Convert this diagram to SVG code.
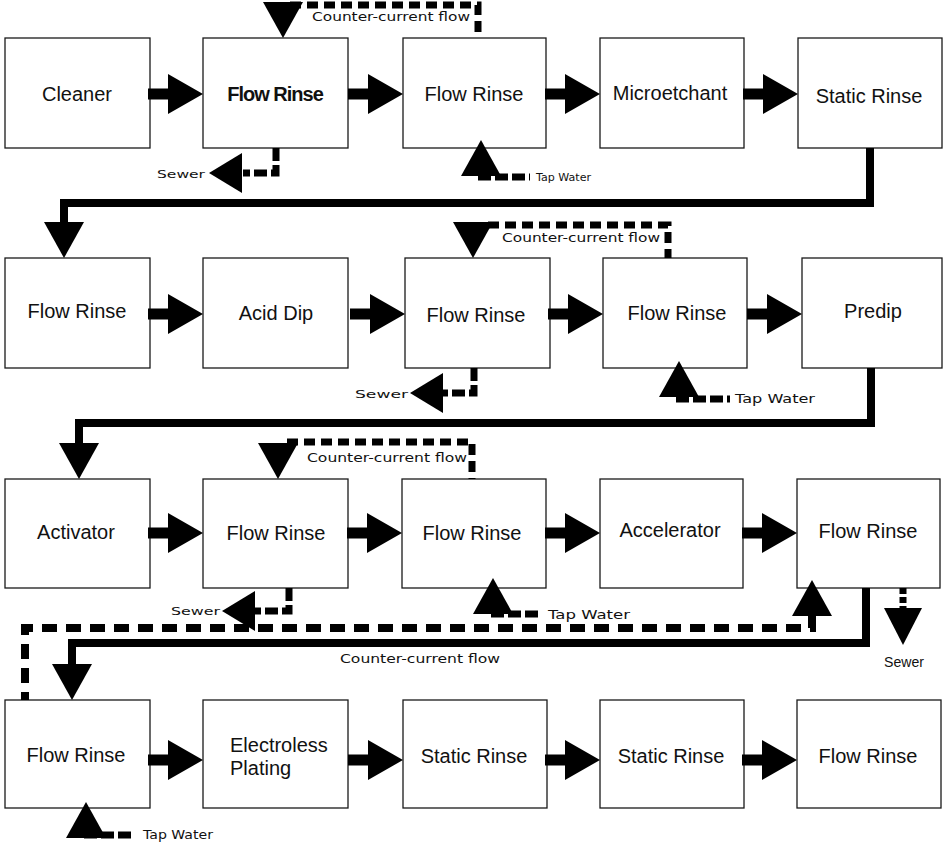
<svg xmlns="http://www.w3.org/2000/svg" width="944" height="851" viewBox="0 0 944 851">
<style>
.box{fill:#fff;stroke:#1a1a1a;stroke-width:1.3}
.t{font-family:"Liberation Sans",Arial,sans-serif;font-size:20px;fill:#111;text-anchor:middle}
.tb{font-weight:bold;letter-spacing:-1px}
.s{font-family:"DejaVu Sans",Verdana,sans-serif;font-size:12px;fill:#111}
.sa{font-family:"Liberation Sans",Arial,sans-serif;font-size:14px;fill:#111}
.solid{fill:none;stroke:#000;stroke-width:8}
.dash{fill:none;stroke:#000;stroke-width:7;stroke-dasharray:11 6}
.ldash{fill:none;stroke:#000;stroke-width:8;stroke-dasharray:15 9}
.sdash{fill:none;stroke:#000;stroke-width:7;stroke-dasharray:13 4}
.hd{fill:#000}
</style>
<defs>
<path id="ar" d="M-55,-5.5 H-35 V-20 L0,0 L-35,20 V5.5 H-55 Z"/>
<path id="dn" d="M-20,-36 L20,-36 L0,0 Z"/>
<path id="up" d="M-20,36 L20,36 L0,0 Z"/>
<path id="lt" d="M0,0 L33,-20 L33,20 Z"/>
</defs>

<g id="nodes">
<g id="n1"><rect class="box" x="5" y="38" width="145" height="110"/><text class="t" x="77" y="101">Cleaner</text></g>
<g id="n2"><rect class="box" x="203" y="38" width="145" height="110"/><text class="t tb" x="275" y="101">Flow Rinse</text></g>
<g id="n3"><rect class="box" x="403" y="38" width="143" height="110"/><text class="t" x="474" y="101">Flow Rinse</text></g>
<g id="n4"><rect class="box" x="600" y="38" width="144" height="110"/><text class="t" x="670" y="100">Microetchant</text></g>
<g id="n5"><rect class="box" x="798" y="38" width="144" height="110"/><text class="t" x="869" y="103">Static Rinse</text></g>

<g id="n6"><rect class="box" x="5" y="258" width="145" height="110"/><text class="t" x="77" y="318">Flow Rinse</text></g>
<g id="n7"><rect class="box" x="203" y="258" width="145" height="110"/><text class="t" x="276" y="320">Acid Dip</text></g>
<g id="n8"><rect class="box" x="405" y="258" width="145" height="110"/><text class="t" x="476" y="322">Flow Rinse</text></g>
<g id="n9"><rect class="box" x="603" y="258" width="144" height="110"/><text class="t" x="677" y="320">Flow Rinse</text></g>
<g id="n10"><rect class="box" x="802" y="258" width="140" height="110"/><text class="t" x="873" y="318">Predip</text></g>

<g id="n11"><rect class="box" x="5" y="479" width="145" height="109"/><text class="t" x="76" y="539">Activator</text></g>
<g id="n12"><rect class="box" x="203" y="479" width="145" height="109"/><text class="t" x="276" y="540">Flow Rinse</text></g>
<g id="n13"><rect class="box" x="402" y="479" width="144" height="109"/><text class="t" x="472" y="540">Flow Rinse</text></g>
<g id="n14"><rect class="box" x="600" y="479" width="143" height="109"/><text class="t" x="670" y="537">Accelerator</text></g>
<g id="n15"><rect class="box" x="797" y="479" width="143" height="109"/><text class="t" x="868" y="538">Flow Rinse</text></g>

<g id="n16"><rect class="box" x="5" y="700" width="145" height="108"/><text class="t" x="76" y="762">Flow Rinse</text></g>
<g id="n17"><rect class="box" x="203" y="700" width="145" height="108"/><text class="t" x="230" y="752" style="text-anchor:start">Electroless</text><text class="t" x="230" y="775" style="text-anchor:start">Plating</text></g>
<g id="n18"><rect class="box" x="403" y="700" width="144" height="108"/><text class="t" x="474" y="763">Static Rinse</text></g>
<g id="n19"><rect class="box" x="600" y="700" width="144" height="108"/><text class="t" x="671" y="763">Static Rinse</text></g>
<g id="n20"><rect class="box" x="797" y="700" width="144" height="108"/><text class="t" x="868" y="763">Flow Rinse</text></g>
</g>

<g id="connectors">
<use href="#ar" class="hd" x="203" y="94"/>
<use href="#ar" class="hd" x="403" y="94"/>
<use href="#ar" class="hd" x="600" y="94"/>
<use href="#ar" class="hd" x="798" y="94"/>
<use href="#ar" class="hd" x="203" y="314"/>
<use href="#ar" class="hd" x="405" y="314"/>
<use href="#ar" class="hd" x="603" y="314"/>
<use href="#ar" class="hd" x="802" y="314"/>
<use href="#ar" class="hd" x="203" y="533"/>
<use href="#ar" class="hd" x="402" y="533"/>
<use href="#ar" class="hd" x="600" y="533"/>
<use href="#ar" class="hd" x="797" y="533"/>
<use href="#ar" class="hd" x="203" y="760"/>
<use href="#ar" class="hd" x="403" y="760"/>
<use href="#ar" class="hd" x="600" y="760"/>
<use href="#ar" class="hd" x="797" y="760"/>

<path class="solid" d="M870 148 V203 H64 V224"/>
<use href="#dn" class="hd" x="64" y="258"/>
<path class="solid" d="M871 368 V423 H79 V444"/>
<use href="#dn" class="hd" x="79" y="479"/>
<path class="solid" d="M866 588 V643 H72 V665"/>
<use href="#dn" class="hd" x="72" y="700"/>

<path class="dash" d="M290 5 H478 V38"/>
<use href="#dn" class="hd" x="283" y="38"/>
<text class="s" x="312" y="21" textLength="158" lengthAdjust="spacingAndGlyphs">Counter-current flow</text>

<path class="dash" d="M488 225 H668 V258"/>
<use href="#dn" class="hd" x="473" y="258"/>
<text class="s" x="502" y="242" textLength="158" lengthAdjust="spacingAndGlyphs">Counter-current flow</text>

<path class="dash" d="M287 442 H472 V479"/>
<use href="#dn" class="hd" x="278" y="479"/>
<text class="s" x="307" y="462" textLength="160" lengthAdjust="spacingAndGlyphs">Counter-current flow</text>

<path class="ldash" d="M812 615 V628 H25 V700"/>
<use href="#up" class="hd" x="812" y="580"/>
<text class="s" x="340" y="663" textLength="160" lengthAdjust="spacingAndGlyphs">Counter-current flow</text>

<path class="sdash" d="M276 148 V173 H243"/>
<use href="#lt" class="hd" x="209" y="173"/>
<text class="s" x="157" y="178" textLength="48" lengthAdjust="spacingAndGlyphs" style="font-size:11px">Sewer</text>

<path class="sdash" d="M474 368 V393 H443"/>
<use href="#lt" class="hd" x="410" y="393"/>
<text class="s" x="355" y="398" textLength="53" lengthAdjust="spacingAndGlyphs" style="font-size:11px">Sewer</text>

<path class="sdash" d="M289 588 V611 H255"/>
<use href="#lt" class="hd" x="222" y="611"/>
<text class="s" x="171" y="615" textLength="49" lengthAdjust="spacingAndGlyphs" style="font-size:11px">Sewer</text>

<path class="dash" style="stroke-dasharray:6 3" d="M903 588 V609"/>
<path class="hd" d="M884 608 L922 608 L903 645 Z"/>
<text class="sa" x="884" y="667" textLength="40" lengthAdjust="spacingAndGlyphs">Sewer</text>

<path class="sdash" d="M478 177 H530"/>
<use href="#up" class="hd" x="481" y="140"/>
<text class="s" x="536" y="181" textLength="55" lengthAdjust="spacingAndGlyphs" style="font-size:10px">Tap Water</text>

<path class="sdash" d="M676 399 H730"/>
<use href="#up" class="hd" x="679" y="361"/>
<text class="s" x="735" y="403" textLength="80" lengthAdjust="spacingAndGlyphs">Tap Water</text>

<path class="sdash" d="M491 614 H541"/>
<use href="#up" class="hd" x="493" y="578"/>
<text class="s" x="548" y="619" textLength="82" lengthAdjust="spacingAndGlyphs">Tap Water</text>

<path class="sdash" d="M84 835 H132"/>
<use href="#up" class="hd" x="86" y="802"/>
<text class="s" x="143" y="839" textLength="70" lengthAdjust="spacingAndGlyphs">Tap Water</text>
</g>
</svg>
